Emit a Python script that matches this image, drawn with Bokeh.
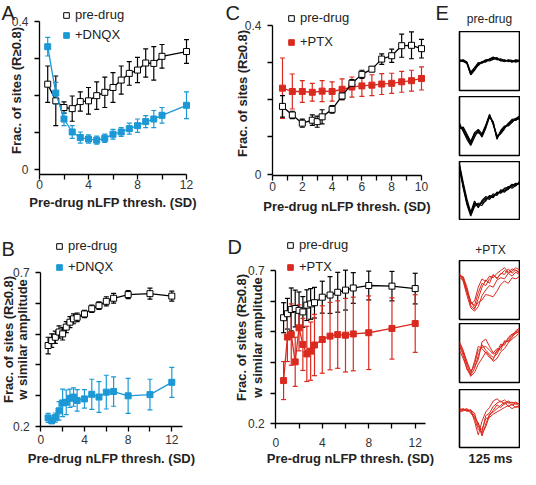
import numpy as np
from bokeh.plotting import figure
from bokeh.models import (Range1d, FixedTicker, ColumnDataSource, Whisker, TeeHead,
                          Label, Legend, LegendItem)
from bokeh.layouts import row, column
from bokeh.embed import file_html
from bokeh.resources import INLINE

FONT = "Liberation Sans"
BLACK = "#000000"
BLUE = "#1b98d5"
RED = "#da2a1f"
XTITLE = "Pre-drug nLFP thresh. (SD)"
YTITLE1 = "Frac. of sites (R\u22650.8)"
YTITLE2 = "w similar amplitude"

# ---------------- Panel A ----------------
a_x = [0.67, 1.33, 2, 2.67, 3.33, 4, 4.67, 5.33, 6, 6.67, 7.33, 8, 8.67, 9.33, 10, 12]
a_pre_y = [0.231, 0.186, 0.168, 0.165, 0.184, 0.186, 0.200, 0.209, 0.222, 0.242, 0.260, 0.269, 0.288, 0.287, 0.306, 0.319]
a_pre_e = [0.049, 0.067, 0.015, 0.034, 0.026, 0.036, 0.037, 0.041, 0.040, 0.038, 0.032, 0.034, 0.038, 0.045, 0.032, 0.032]
a_dnqx_y = [0.332, 0.207, 0.137, 0.102, 0.087, 0.083, 0.080, 0.085, 0.096, 0.102, 0.111, 0.119, 0.130, 0.137, 0.147, 0.174]
a_dnqx_e = [0.025, 0.029, 0.018, 0.017, 0.015, 0.011, 0.011, 0.011, 0.013, 0.012, 0.015, 0.018, 0.016, 0.023, 0.021, 0.036]

# ---------------- Panel C ----------------
c_pre_x = [0.67, 1.33, 2, 2.67, 3, 3.33, 4, 4.67, 5.33, 6, 6.67, 7.33, 8, 8.67, 9.33, 10]
c_pre_y = [0.182, 0.159, 0.137, 0.145, 0.141, 0.154, 0.174, 0.210, 0.244, 0.268, 0.282, 0.309, 0.318, 0.345, 0.346, 0.337]
c_pre_e = [0.029, 0.010, 0.011, 0.014, 0.015, 0.019, 0.010, 0.010, 0.010, 0.011, 0.007, 0.014, 0.018, 0.031, 0.036, 0.025]
c_ptx_x = [0.67, 1.33, 2, 2.67, 3.33, 4, 4.67, 5.33, 6, 6.67, 7.33, 8, 8.67, 9.33, 10]
c_ptx_y = [0.231, 0.222, 0.222, 0.220, 0.223, 0.222, 0.228, 0.234, 0.237, 0.239, 0.242, 0.244, 0.248, 0.251, 0.257]
c_ptx_e = [0.081, 0.047, 0.029, 0.024, 0.028, 0.026, 0.028, 0.027, 0.028, 0.028, 0.028, 0.027, 0.028, 0.028, 0.031]

# ---------------- Panel B ----------------
b_x = [0.67, 1, 1.33, 1.67, 2, 2.33, 2.67, 3, 3.33, 4, 4.67, 5.33, 6, 6.67, 8, 10, 12]
b_pre_y = [0.463, 0.479, 0.490, 0.507, 0.501, 0.523, 0.539, 0.550, 0.555, 0.566, 0.583, 0.593, 0.607, 0.617, 0.629, 0.632, 0.624]
b_pre_e = [0.027, 0.022, 0.020, 0.020, 0.020, 0.018, 0.018, 0.016, 0.014, 0.012, 0.012, 0.012, 0.015, 0.016, 0.013, 0.018, 0.016]
b_dnqx_y = [0.227, 0.218, 0.228, 0.250, 0.276, 0.278, 0.291, 0.295, 0.284, 0.289, 0.304, 0.295, 0.311, 0.313, 0.299, 0.303, 0.343]
b_dnqx_e = [0.015, 0.010, 0.015, 0.030, 0.045, 0.040, 0.030, 0.030, 0.035, 0.030, 0.049, 0.050, 0.055, 0.048, 0.057, 0.050, 0.049]

# ---------------- Panel D ----------------
d_x = [0.67, 1, 1.33, 1.67, 2, 2.33, 2.67, 3, 3.33, 4, 4.67, 5.33, 6, 6.67, 8, 10, 12]
d_pre_y = [0.546, 0.559, 0.573, 0.576, 0.570, 0.565, 0.587, 0.591, 0.595, 0.613, 0.620, 0.629, 0.636, 0.643, 0.651, 0.649, 0.641]
d_pre_e = [0.049, 0.050, 0.070, 0.060, 0.060, 0.050, 0.050, 0.050, 0.050, 0.052, 0.060, 0.065, 0.065, 0.050, 0.047, 0.048, 0.050]
d_ptx_y = [0.341, 0.483, 0.491, 0.402, 0.513, 0.459, 0.428, 0.437, 0.457, 0.475, 0.486, 0.491, 0.489, 0.493, 0.497, 0.511, 0.527]
d_ptx_e = [0.062, 0.080, 0.100, 0.080, 0.075, 0.085, 0.090, 0.095, 0.100, 0.110, 0.110, 0.110, 0.120, 0.120, 0.120, 0.100, 0.094]

# ---------------- Panel E (waveforms, normalised 0..1 within each box) ----------------
e_t = [0, 7.8, 15.6, 23.4, 31.3, 39.1, 46.9, 54.7, 62.5, 70.3, 78.1, 85.9, 93.8, 101.6, 109.4, 117.2, 125]
pre_box1 = [
    [0.50, 0.50, 0.47, 0.28, 0.36, 0.45, 0.47, 0.50, 0.52, 0.55, 0.53, 0.52, 0.50, 0.51, 0.48, 0.50, 0.49],
    [0.52, 0.51, 0.45, 0.25, 0.33, 0.44, 0.49, 0.48, 0.54, 0.56, 0.55, 0.50, 0.52, 0.49, 0.50, 0.51, 0.50],
    [0.49, 0.52, 0.48, 0.30, 0.38, 0.47, 0.46, 0.51, 0.50, 0.53, 0.56, 0.51, 0.49, 0.52, 0.51, 0.48, 0.50],
    [0.51, 0.49, 0.46, 0.26, 0.35, 0.42, 0.48, 0.52, 0.53, 0.57, 0.52, 0.54, 0.51, 0.50, 0.49, 0.52, 0.51],
]
pre_box2 = [
    [0.50, 0.42, 0.30, 0.18, 0.35, 0.40, 0.32, 0.50, 0.68, 0.55, 0.28, 0.40, 0.47, 0.52, 0.58, 0.62, 0.64],
    [0.45, 0.48, 0.35, 0.22, 0.38, 0.44, 0.36, 0.52, 0.70, 0.52, 0.30, 0.36, 0.45, 0.55, 0.60, 0.60, 0.66],
    [0.55, 0.40, 0.26, 0.15, 0.30, 0.42, 0.30, 0.46, 0.66, 0.58, 0.26, 0.42, 0.50, 0.50, 0.56, 0.64, 0.62],
    [0.48, 0.45, 0.33, 0.20, 0.36, 0.38, 0.34, 0.49, 0.71, 0.54, 0.32, 0.38, 0.48, 0.54, 0.62, 0.63, 0.68],
]
pre_box3 = [
    [0.95, 0.60, 0.30, 0.08, 0.28, 0.22, 0.30, 0.38, 0.35, 0.42, 0.45, 0.50, 0.48, 0.55, 0.58, 0.62, 0.64],
    [0.90, 0.55, 0.25, 0.05, 0.22, 0.26, 0.24, 0.35, 0.40, 0.38, 0.48, 0.46, 0.52, 0.58, 0.55, 0.60, 0.66],
    [0.98, 0.65, 0.35, 0.12, 0.32, 0.20, 0.33, 0.40, 0.37, 0.45, 0.42, 0.52, 0.50, 0.53, 0.60, 0.64, 0.62],
    [0.92, 0.58, 0.28, 0.10, 0.25, 0.28, 0.28, 0.32, 0.42, 0.40, 0.46, 0.48, 0.55, 0.56, 0.62, 0.59, 0.67],
]
ptx_box1 = [
    [0.78, 0.70, 0.45, 0.25, 0.30, 0.55, 0.70, 0.65, 0.75, 0.72, 0.80, 0.85, 0.90, 0.82, 0.88, 0.85, 0.83],
    [0.75, 0.72, 0.50, 0.22, 0.15, 0.35, 0.55, 0.68, 0.62, 0.78, 0.70, 0.80, 0.78, 0.88, 0.80, 0.86, 0.80],
    [0.80, 0.65, 0.40, 0.18, 0.12, 0.20, 0.40, 0.50, 0.58, 0.55, 0.68, 0.72, 0.70, 0.80, 0.75, 0.82, 0.78],
    [0.72, 0.68, 0.48, 0.30, 0.18, 0.28, 0.32, 0.42, 0.40, 0.38, 0.48, 0.60, 0.66, 0.62, 0.72, 0.70, 0.74],
    [0.76, 0.74, 0.55, 0.28, 0.22, 0.45, 0.62, 0.58, 0.70, 0.76, 0.72, 0.78, 0.85, 0.80, 0.84, 0.90, 0.86],
]
ptx_box2 = [
    [0.65, 0.45, 0.20, 0.12, 0.35, 0.62, 0.58, 0.50, 0.42, 0.38, 0.55, 0.60, 0.68, 0.75, 0.82, 0.88, 0.92],
    [0.60, 0.50, 0.28, 0.10, 0.22, 0.45, 0.65, 0.55, 0.48, 0.42, 0.48, 0.62, 0.70, 0.72, 0.80, 0.85, 0.90],
    [0.70, 0.55, 0.32, 0.18, 0.25, 0.38, 0.70, 0.75, 0.62, 0.50, 0.58, 0.55, 0.72, 0.70, 0.78, 0.90, 0.95],
    [0.55, 0.40, 0.22, 0.08, 0.15, 0.30, 0.40, 0.52, 0.45, 0.35, 0.40, 0.52, 0.58, 0.68, 0.75, 0.80, 0.86],
    [0.68, 0.52, 0.35, 0.15, 0.30, 0.55, 0.60, 0.62, 0.55, 0.48, 0.52, 0.66, 0.64, 0.78, 0.84, 0.86, 0.88],
]
ptx_box3 = [
    [0.66, 0.68, 0.64, 0.66, 0.45, 0.20, 0.45, 0.62, 0.70, 0.82, 0.86, 0.80, 0.84, 0.78, 0.80, 0.76, 0.78],
    [0.64, 0.66, 0.68, 0.62, 0.50, 0.30, 0.25, 0.55, 0.60, 0.72, 0.78, 0.82, 0.76, 0.80, 0.74, 0.78, 0.72],
    [0.68, 0.65, 0.66, 0.64, 0.55, 0.40, 0.18, 0.40, 0.58, 0.62, 0.68, 0.74, 0.80, 0.72, 0.76, 0.70, 0.74],
    [0.65, 0.67, 0.63, 0.65, 0.60, 0.35, 0.30, 0.50, 0.52, 0.58, 0.62, 0.66, 0.70, 0.74, 0.68, 0.72, 0.70],
    [0.62, 0.64, 0.66, 0.60, 0.52, 0.42, 0.22, 0.35, 0.55, 0.65, 0.75, 0.70, 0.78, 0.82, 0.78, 0.80, 0.76],
]


def vmap(v0, p0, v1, p1, px):
    return v0 + (px - p0) * (v1 - v0) / (p1 - p0)


class Panel:
    def __init__(self, fx, fy, W, H, xcal, ycal, axis_px, xbounds,
                 xticks, xlabeled, yticks, ylabeled, xstand, tstand):
        self.fx, self.fy, self.W, self.H = fx, fy, W, H
        xs = vmap(*xcal, fx)
        xe = vmap(*xcal, fx + W)
        ys = vmap(*ycal, fy + H)
        ye = vmap(*ycal, fy)
        xaxis_y = vmap(*ycal, axis_px)
        p = figure(width=W, height=H, x_range=Range1d(xs, xe), y_range=Range1d(ys, ye),
                   output_backend="svg", toolbar_location=None,
                   min_border_left=0, min_border_right=0, min_border_top=0, min_border_bottom=0)
        p.outline_line_color = None
        p.grid.visible = False
        xa, ya = p.xaxis[0], p.yaxis[0]
        xa.fixed_location = xaxis_y
        xa.bounds = xbounds
        ya.fixed_location = 0
        ya.bounds = (xaxis_y, max(yticks))
        xa.ticker = FixedTicker(ticks=xticks, minor_ticks=[])
        ya.ticker = FixedTicker(ticks=yticks, minor_ticks=[])
        xa.major_label_overrides = {t: (("%g" % t) if t in xlabeled else "") for t in xticks}
        ya.major_label_overrides = {t: (("%g" % t) if t in ylabeled else "") for t in yticks}
        for ax in (xa, ya):
            ax.axis_line_width = 1.3
            ax.axis_line_color = BLACK
            ax.major_tick_out = 5
            ax.major_tick_in = 0
            ax.major_tick_line_width = 1.3
            ax.minor_tick_out = 0
            ax.minor_tick_in = 0
            ax.major_label_text_font = FONT
            ax.major_label_text_font_size = "12px"
            ax.major_label_text_color = "#333333"
        ya.major_label_standoff = 6
        xa.major_label_standoff = xstand
        xa.axis_label = XTITLE
        xa.axis_label_text_font = FONT
        xa.axis_label_text_font_size = "13px"
        xa.axis_label_text_font_style = "bold"
        xa.axis_label_text_color = "#222222"
        xa.axis_label_standoff = tstand
        self.p = p

    def series(self, x, y, e, color, fill):
        p = self.p
        src = ColumnDataSource(dict(x=x, y=y,
                                    lo=[a - b for a, b in zip(y, e)],
                                    hi=[a + b for a, b in zip(y, e)]))
        p.add_layout(Whisker(source=src, base="x", upper="hi", lower="lo",
                             line_color=color, line_width=1.2,
                             upper_head=TeeHead(size=5, line_color=color, line_width=1.2),
                             lower_head=TeeHead(size=5, line_color=color, line_width=1.2)))
        p.line("x", "y", source=src, line_color=color, line_width=1.3)
        return p.scatter("x", "y", source=src, marker="square", size=6,
                         fill_color=fill, line_color=color, line_width=1)

    def legend(self, r1, r2, lab2, left_px, bottom_px, spacing):
        leg = Legend(items=[LegendItem(label="pre-drug", renderers=[r1]),
                            LegendItem(label=lab2, renderers=[r2])],
                     location=(left_px - self.fx, self.fy + self.H - bottom_px),
                     orientation="vertical", glyph_width=14, glyph_height=14,
                     label_height=14, spacing=spacing, padding=0, margin=0, label_standoff=2,
                     border_line_color=None, background_fill_alpha=0,
                     label_text_font=FONT, label_text_font_size="13px",
                     label_text_color="#222222")
        self.p.add_layout(leg)

    def label(self, text, px, py, size="13px", bold=True, angle=0, align="center"):
        p = self.p
        p.add_layout(Label(x=p.x_range.start, y=p.y_range.start,
                           x_offset=px - self.fx, y_offset=self.fy + self.H - py,
                           text=text, angle=angle, text_align=align, text_baseline="middle",
                           text_font=FONT, text_font_size=size,
                           text_font_style="bold" if bold else "normal",
                           text_color="#222222"))


ROT = np.pi / 2

# ---- A ---- (page coords: figure at x 8..232, y 8..228)
A = Panel(8, 8, 224, 220, (0, 47, 12, 194), (0.4, 29, 0, 177.3), 182, (0, 12),
          [0, 2, 4, 6, 8, 10, 12], [0, 4, 8, 12], [0, 0.1, 0.2, 0.3, 0.4], [0, 0.4], 0, 3)
rA1 = A.series(a_x, a_pre_y, a_pre_e, BLACK, "white")
rA2 = A.series(a_x, a_dnqx_y, a_dnqx_e, BLUE, BLUE)
A.legend(rA1, rA2, "+DNQX", 67, 50, 5)
A.label(YTITLE1, 24, 98, angle=ROT)
A.label("A", 9, 20, size="20px", bold=False, align="left")

# ---- C ---- (x 232..465, y 8..228)
C = Panel(232, 8, 233, 220, (0, 280, 10, 429), (0.4, 32.7, 0, 181.7), 182.7, (0, 10),
          list(range(0, 11)), [0, 2, 4, 6, 8, 10], [0, 0.1, 0.2, 0.3, 0.4], [0, 0.4], 2, 4)
rC2 = C.series(c_ptx_x, c_ptx_y, c_ptx_e, RED, RED)
rC1 = C.series(c_pre_x, c_pre_y, c_pre_e, BLACK, "white")
C.legend(rC1, rC2, "+PTX", 292, 57, 9)
C.label(YTITLE1, 250, 101, angle=ROT)
C.label("C", 233, 20, size="20px", bold=False, align="left")
C.label("E", 443, 20, size="20px", bold=False, align="left")

# ---- B ---- (x 8..232, y 228..476)
B = Panel(8, 228, 224, 248, (0, 48.3, 12, 179.3), (0.7, 280.3, 0.2, 433.7), 433.7, (0, 13.0),
          [0, 2, 4, 6, 8, 10, 12], [0, 4, 8, 12], [0.2, 0.3, 0.4, 0.5, 0.6, 0.7], [0.2, 0.7], 4, 3)
rB1 = B.series(b_x, b_pre_y, b_pre_e, BLACK, "white")
rB2 = B.series(b_x, b_dnqx_y, b_dnqx_e, BLUE, BLUE)
B.legend(rB1, rB2, "+DNQX", 60, 282, 6)
B.label(YTITLE1, 15.5, 347, angle=ROT)
B.label(YTITLE2, 30, 347, angle=ROT)
B.label("B", 9, 256, size="20px", bold=False, align="left")

# ---- D ---- (x 232..465, y 228..476)
D = Panel(232, 228, 233, 248, (0, 283.3, 12, 422.7), (0.7, 278, 0.2, 431.3), 431.3, (0, 12.9),
          [0, 2, 4, 6, 8, 10, 12], [0, 4, 8, 12], [0.2, 0.3, 0.4, 0.5, 0.6, 0.7], [0.2, 0.7], 9, 1)
rD1 = D.series(d_x, d_pre_y, d_pre_e, BLACK, "white")
rD2 = D.series(d_x, d_ptx_y, d_ptx_e, RED, RED)
D.legend(rD1, rD2, "+PTX", 291, 282, 7)
D.label(YTITLE1, 249, 345, angle=ROT)
D.label(YTITLE2, 265, 345, angle=ROT)
D.label("D", 235, 254, size="20px", bold=False, align="left")


# ---- E ----
def efig(h, bb, traces=None, color=BLACK, lw=1.2, outline=True, bl=2, br=1):
    p = figure(width=63, height=h, x_range=Range1d(0, 125), y_range=Range1d(-0.03, 1.03),
               output_backend="svg", toolbar_location=None,
               x_axis_location=None, y_axis_location=None,
               min_border_left=bl, min_border_right=br, min_border_top=0, min_border_bottom=bb)
    p.grid.visible = False
    p.outline_line_color = BLACK if outline else None
    p.outline_line_width = 1.6
    if traces is not None:
        for tr in traces:
            p.line(e_t, tr, line_color=color, line_width=lw)
    return p


def etext(p, text, xo, yo, size="12px", bold=False):
    p.add_layout(Label(x=0, y=-0.03, x_offset=xo, y_offset=yo, text=text,
                       text_align="center", text_baseline="middle",
                       text_font=FONT, text_font_size=size,
                       text_font_style="bold" if bold else "normal",
                       text_color="#222222"))


eh1 = efig(31, 0, outline=False, bl=0, br=0)
etext(eh1, "pre-drug", 30, 13)
eb1 = efig(65, 6, pre_box1)
eb2 = efig(65, 6, pre_box2)
eb3 = efig(59, 0, pre_box3)

eh2 = efig(40, 0, outline=False, bl=0, br=0)
etext(eh2, "+PTX", 31, 11)
eb4 = efig(63, 4, ptx_box1, RED, 1.0)
eb5 = efig(66, 7, ptx_box2, RED, 1.0)
eb6 = efig(62, 4, ptx_box3, RED, 1.0)
ef = efig(17, 0, outline=False, bl=0, br=0)
etext(ef, "125 ms", 31, 10, size="13px", bold=True)

layout = column(
    row(A.p, C.p, column(eh1, eb1, eb2, eb3)),
    row(B.p, D.p, column(eh2, eb4, eb5, eb6, ef)),
)

open("out.html", "w").write(file_html(layout, INLINE))
